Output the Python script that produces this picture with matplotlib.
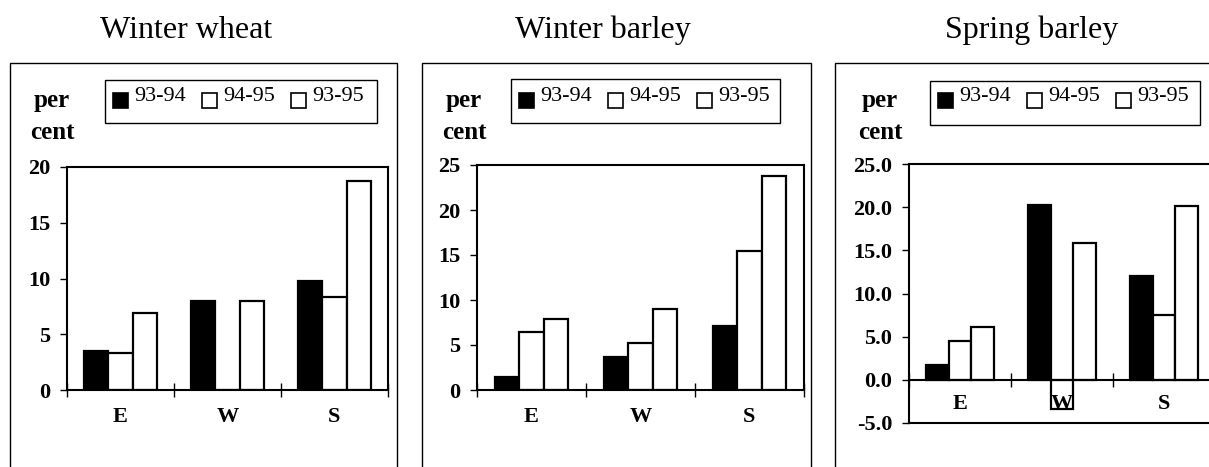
import matplotlib
matplotlib.use("Agg")
import matplotlib.pyplot as plt
from matplotlib.patches import Rectangle
import numpy as np

plt.rcParams['font.family'] = ['Liberation Serif', 'DejaVu Serif']

titles = ["Winter wheat", "Winter barley", "Spring barley"]
regions = ["E", "W", "S"]
series = ["93-94", "94-95", "93-95"]
colors = ["black", "white", "white"]

wheat_9394 = [3.5, 8.0, 9.8]
wheat_9495 = [3.3, 0.0, 8.3]
wheat_9395 = [6.9, 8.0, 18.7]

wbarley_9394 = [1.4, 3.7, 7.1]
wbarley_9495 = [6.5, 5.2, 15.5]
wbarley_9395 = [7.85, 9.0, 23.8]

sbarley_9394 = [1.7, 20.3, 12.0]
sbarley_9495 = [4.5, -3.4, 7.5]
sbarley_9395 = [6.1, 15.9, 20.1]

ylims = [(0, 20), (0, 25), (-5, 25)]
yticks = [[0, 5, 10, 15, 20], [0, 5, 10, 15, 20, 25],
          [-5, 0, 5, 10, 15, 20, 25]]
ytick_fmt = ["{:.0f}", "{:.0f}", "{:.1f}"]

data = [
    [wheat_9394, wheat_9495, wheat_9395],
    [wbarley_9394, wbarley_9495, wbarley_9395],
    [sbarley_9394, sbarley_9495, sbarley_9395],
]

W, H = 1209, 467
fig = plt.figure(figsize=(W / 100, H / 100), dpi=100)


def fx(x):
    return x / W


def fy(y):
    return 1 - y / H


# pixel layout (left, right, top, bottom) of plotting areas
axes_px = [(67, 388, 167, 390), (477, 804, 165, 390), (909, 1215, 164, 423)]
panel_px = [(10, 397, 63), (422, 811, 63), (835, 1260, 63)]
legend_px = [(105, 377, 80, 123), (511, 780, 79, 123), (930, 1200, 81, 125)]
title_x = [186, 603, 1032]
per_x = [52, 464, 880]

for i in range(3):
    # outer panel frame
    l, r, t = panel_px[i]
    fig.patches.append(Rectangle((fx(l), fy(500)), fx(r) - fx(l), fy(t) - fy(500),
                                 transform=fig.transFigure, fill=False,
                                 edgecolor="black", lw=1.0))
    fig.text(fx(title_x[i]), fy(38), titles[i], ha="center", va="baseline",
             fontsize=23)

    al, ar, at, ab = axes_px[i]
    ax = fig.add_axes([fx(al), fy(ab), fx(ar) - fx(al), fy(at) - fy(ab)])
    ax.set_axisbelow(False)
    if ylims[i][0] < 0:
        ax.spines["bottom"].set_position(("data", 0))
        ax.axhline(ylims[i][0], color="black", lw=1.5, clip_on=False, zorder=5)
    x = np.arange(len(regions)) + 0.5
    bw = 0.225
    for j, vals in enumerate(data[i]):
        ax.bar(x + (j - 1) * bw, vals, width=bw, color=colors[j],
               edgecolor="black", linewidth=1.6, zorder=2)
    ax.set_xlim(0, 3)
    ax.set_ylim(*ylims[i])
    ax.set_yticks(yticks[i])
    ax.set_yticklabels([ytick_fmt[i].format(v) for v in yticks[i]],
                       fontsize=16, fontweight="bold")
    ax.tick_params(axis="y", direction="out", length=5, width=1, pad=7)
    ax.set_xticks([0, 1, 2, 3])
    ax.set_xticklabels([])
    ax.set_xticks(x, minor=True)
    ax.set_xticklabels(regions, minor=True, fontsize=16, fontweight="bold")
    ax.tick_params(axis="x", which="major", direction="inout", length=10,
                   width=1)
    ax.tick_params(axis="x", which="minor", length=0,
                   pad=10 if ylims[i][0] < 0 else 12)
    for s in ax.spines.values():
        s.set_linewidth(1.5)

    # per cent label
    fig.text(fx(per_x[i]), fy(107), "per", ha="center", va="baseline",
             fontsize=18, fontweight="bold")
    fig.text(fx(per_x[i]), fy(139), "cent", ha="center", va="baseline",
             fontsize=18, fontweight="bold")

    # legend
    ll, lr, lt, lb = legend_px[i]
    fig.patches.append(Rectangle((fx(ll), fy(lb)), fx(lr) - fx(ll), fy(lt) - fy(lb),
                                 transform=fig.transFigure, fill=True,
                                 facecolor="white", edgecolor="black", lw=1.0))
    for j, name in enumerate(series):
        sx = ll + 8 + j * 89
        fig.patches.append(Rectangle((fx(sx), fy(108)), fx(15), fy(93) - fy(108),
                                     transform=fig.transFigure,
                                     facecolor=colors[j], edgecolor="black",
                                     lw=1.2))
        fig.text(fx(sx + 21), fy(101), name, ha="left", va="baseline",
                 fontsize=16)

fig.savefig("out.png", dpi=100)
